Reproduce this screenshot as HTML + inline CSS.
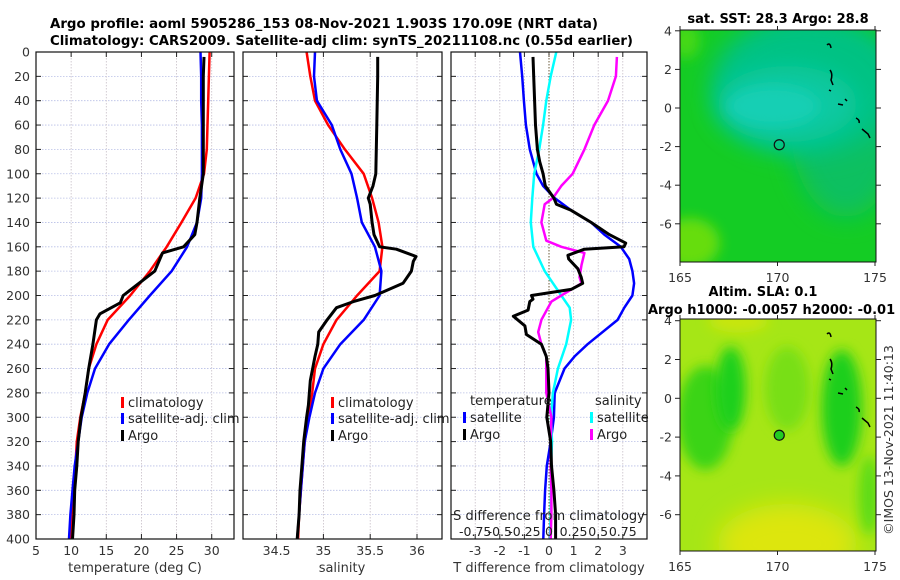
<!DOCTYPE html>
<html><head><meta charset="utf-8"><style>
html,body{margin:0;padding:0;background:#fff;}
svg{display:block;font-family:"DejaVu Sans","Liberation Sans",sans-serif;}
</style></head><body>
<svg id="fig" width="900" height="580" viewBox="0 0 900 580" xmlns="http://www.w3.org/2000/svg">
<defs>
<filter id="blur1" x="-50%" y="-50%" width="200%" height="200%"><feGaussianBlur stdDeviation="12"/></filter>
<filter id="blur2" x="-50%" y="-50%" width="200%" height="200%"><feGaussianBlur stdDeviation="6"/></filter>
<clipPath id="m1clip"><rect x="680" y="30" width="196" height="232"/></clipPath>
<clipPath id="m2clip"><rect x="680" y="319" width="196" height="232"/></clipPath>
</defs>
<text x="50" y="28" font-size="13.5" font-weight="bold" textLength="548" lengthAdjust="spacingAndGlyphs">Argo profile: aoml 5905286_153 08-Nov-2021 1.903S 170.09E (NRT data)</text>
<text x="50" y="45" font-size="13.5" font-weight="bold" textLength="583" lengthAdjust="spacingAndGlyphs">Climatology: CARS2009. Satellite-adj clim: synTS_20211108.nc (0.55d earlier)</text>
<g id="panels"></g>
<g id="maps"></g>
</svg>
<script>
// ---------- data ----------
const depthTicks = [0,20,40,60,80,100,120,140,160,180,200,220,240,260,280,300,320,340,360,380,400];
const tempTicks = [5,10,15,20,25,30];
const salTicks = [34.5,35,35.5,36];
const tdiffTicks = [-3,-2,-1,0,1,2,3];
const sdiffTickLabels = ["-0.75","-0.5","-0.25","0","0.25","0.5","0.75"];
const sdiffTicks = [-0.75,-0.5,-0.25,0,0.25,0.5,0.75];

const climDepth = [0,20,40,60,80,100,120,140,160,180,200,220,240,260,280,300,320,340,360,380,400];
const climTemp  = [29.7,29.6,29.5,29.4,29.3,28.9,27.7,25.7,23.6,21.2,18.4,15.2,13.6,12.5,12.0,11.3,10.8,10.6,10.4,10.2,10.0];
const satTemp   = [28.4,28.5,28.5,28.6,28.6,28.6,28.5,27.9,26.5,24.3,21.2,18.2,15.4,13.4,12.3,11.5,11.0,10.5,10.2,9.9,9.7];
const argoTDepth = [4,20,60,100,120,140,150,160,165,180,200,206,215,220,240,260,280,300,320,340,360,380,400];
const argoTemp   = [28.9,28.8,28.8,28.8,28.3,27.9,27.6,26.0,23.0,21.9,17.4,17.0,14.1,13.6,13.1,12.5,12.0,11.4,11.0,10.8,10.5,10.4,10.2];

const climSal = [34.82,34.86,34.91,35.05,35.23,35.43,35.52,35.59,35.63,35.60,35.36,35.14,35.0,34.91,34.88,34.84,34.80,34.78,34.76,34.74,34.73];
const satSal  = [34.91,34.90,34.93,35.09,35.18,35.30,35.36,35.41,35.55,35.62,35.60,35.43,35.18,35.0,34.91,34.85,34.80,34.78,34.76,34.74,34.72];
const argoSDepth = [4,20,60,100,110,120,125,140,150,160,162,168,172,180,190,200,205,210,220,230,240,250,270,290,300,320,340,360,380,400];
const argoSal    = [35.58,35.58,35.57,35.56,35.53,35.48,35.50,35.52,35.54,35.60,35.78,35.99,35.96,35.94,35.85,35.55,35.32,35.14,35.04,34.95,34.94,34.91,34.86,34.84,34.82,34.79,34.77,34.75,34.74,34.72];

const satTdDepth = [0,20,40,60,80,100,110,120,130,140,150,160,170,180,190,200,210,220,240,250,260,280,300,320,340,360,380,400];
const satTdiff   = [-1.18,-1.09,-1.02,-0.94,-0.78,-0.51,-0.24,0.23,0.90,1.71,2.25,2.92,3.26,3.39,3.46,3.39,3.06,2.79,1.57,1.04,0.63,0.23,0.20,0.07,-0.09,-0.16,-0.20,-0.23];
const argoTdDepth = [4,20,60,80,90,100,110,120,125,130,140,150,157,160,162,167,170,178,185,190,195,200,203,205,212,217,225,232,240,250,260,280,300,320,340,360,380,400];
const argoTdiff   = [-0.65,-0.62,-0.55,-0.47,-0.38,-0.24,-0.15,0.20,0.30,0.90,1.71,2.45,3.12,3.05,1.44,0.77,0.80,1.17,1.31,1.37,0.90,-0.71,-0.65,-0.78,-0.85,-1.45,-0.98,-0.92,-0.31,-0.11,-0.04,0.0,-0.09,0.07,0.10,0.20,0.27,0.27];
const satSdDepth = [0,20,40,60,80,100,120,140,160,180,200,210,220,240,260,280,300,320,340,360,380,400];
const satSdiff   = [0.074,0.017,-0.027,-0.06,-0.10,-0.15,-0.17,-0.185,-0.16,-0.044,0.125,0.21,0.225,0.175,0.09,0.04,0.02,0.03,0.02,0.02,0.017,0.01];
const argoSdDepth = [4,20,40,60,80,100,110,120,125,140,155,160,165,175,185,190,200,205,210,220,230,240,250,260,280,300,320,340,360,380,400];
const argoSdiff   = [0.69,0.68,0.60,0.46,0.36,0.24,0.125,0.04,-0.044,-0.077,-0.027,0.125,0.36,0.33,0.31,0.33,0.125,0.024,-0.01,-0.077,-0.11,-0.077,-0.027,-0.027,-0.027,0.024,0.017,0.017,0.024,0.024,0.017];

// ---------- helpers ----------
const NS = "http://www.w3.org/2000/svg";
function mk(tag, attrs, parent){ const e=document.createElementNS(NS,tag); for(const k in attrs) e.setAttribute(k,attrs[k]); if(parent) parent.appendChild(e); return e; }
const Y0=52, Y1=539;
function yD(d){ return Y0 + (d/400)*(Y1-Y0); }
function scaleX(x0,x1,d0,d1){ return v => x0 + (v-d0)/(d1-d0)*(x1-x0); }

const panels = document.getElementById('panels');
const P = [
  {x0:36,x1:234,d0:5,d1:33.17,name:'temperature-panel'},
  {x0:243,x1:442,d0:34.141,d1:36.267,name:'salinity-panel'},
  {x0:451,x1:647,d0:-3.984,d1:3.984,name:'difference-panel'}
];
P.forEach(p=>{ p.sx = scaleX(p.x0,p.x1,p.d0,p.d1); });
const sdx = v => P[2].sx(v*4);

function drawFrame(p, g, xticks, xlabels){
  const bg = mk('rect',{x:p.x0,y:Y0,width:p.x1-p.x0,height:Y1-Y0,fill:'#fff'},g);
  
  
  depthTicks.forEach(d=>{
    const y=yD(d);
    mk('line',{x1:p.x0,x2:p.x1,y1:y,y2:y,stroke:'#b8bfe6','stroke-width':0.8,'stroke-dasharray':'1.5,1.5'},g);
    mk('line',{x1:p.x0,x2:p.x0+5,y1:y,y2:y,stroke:'#222','stroke-width':1},g);
    mk('line',{x1:p.x1-5,x2:p.x1,y1:y,y2:y,stroke:'#222','stroke-width':1},g);
  });
  xticks.forEach((v,i)=>{
    const x=p.sx(v);
    mk('line',{x1:x,x2:x,y1:Y0,y2:Y1,stroke:'#c8bfc8','stroke-width':0.8,'stroke-dasharray':'1.5,1.5'},g);
    mk('line',{x1:x,x2:x,y1:Y0,y2:Y0+5,stroke:'#222'},g);
    mk('line',{x1:x,x2:x,y1:Y1-5,y2:Y1,stroke:'#222'},g);
    const t=mk('text',{x:x,y:555,'font-size':12.5,'text-anchor':'middle',fill:'#333'},g);
    t.textContent = xlabels[i];
    
    
  });
}
function line(g, xs, ds, sx, color, w, name){
  const pts = xs.map((v,i)=> sx(v).toFixed(1)+','+yD(ds[i]).toFixed(1)).join(' ');
  const pl = mk('polyline',{points:pts,fill:'none',stroke:color,'stroke-width':w,'stroke-linejoin':'round'},g);
  
  
}
function legItem(g,x,y,color,label){
  mk('rect',{x:x,y:y-10,width:3,height:11,fill:color},g);
  const t=mk('text',{x:x+7,y:y,'font-size':13,fill:'#222'},g);
  t.textContent=label;
  
  
}

// y tick labels
depthTicks.forEach(d=>{
  const t=mk('text',{x:30,y:yD(d)+4.5,'font-size':12.5,'text-anchor':'end',fill:'#333'},panels);
  t.textContent=d;
  
  
});

// panel 1
let g=mk('g',{},panels);


drawFrame(P[0],g,tempTicks,tempTicks.map(String));
line(g,climTemp,climDepth,P[0].sx,'#ff0000',2.5,'climatology-temp-line');
line(g,satTemp,climDepth,P[0].sx,'#0000ff',2.5,'satellite-temp-line');
line(g,argoTemp,argoTDepth,P[0].sx,'#000',3,'argo-temp-line');
legItem(g,121,407,'#ff0000','climatology');
legItem(g,121,423,'#0000ff','satellite-adj. clim');
legItem(g,121,440,'#000','Argo');
mk('rect',{x:P[0].x0,y:Y0,width:P[0].x1-P[0].x0,height:Y1-Y0,fill:'none',stroke:'#111','stroke-width':1.2},g);
let xl=mk('text',{x:135,y:572,'font-size':13,'text-anchor':'middle',fill:'#333'},g); xl.textContent='temperature (deg C)';



// panel 2
g=mk('g',{},panels);


drawFrame(P[1],g,salTicks,salTicks.map(String));
line(g,climSal,climDepth,P[1].sx,'#ff0000',2.5,'climatology-salinity-line');
line(g,satSal,climDepth,P[1].sx,'#0000ff',2.5,'satellite-salinity-line');
line(g,argoSal,argoSDepth,P[1].sx,'#000',3,'argo-salinity-line');
legItem(g,331,407,'#ff0000','climatology');
legItem(g,331,423,'#0000ff','satellite-adj. clim');
legItem(g,331,440,'#000','Argo');
mk('rect',{x:P[1].x0,y:Y0,width:P[1].x1-P[1].x0,height:Y1-Y0,fill:'none',stroke:'#111','stroke-width':1.2},g);
xl=mk('text',{x:342,y:572,'font-size':13,'text-anchor':'middle',fill:'#333'},g); xl.textContent='salinity';



// panel 3
g=mk('g',{},panels);


drawFrame(P[2],g,tdiffTicks,tdiffTicks.map(String));
mk('line',{x1:P[2].sx(0),x2:P[2].sx(0),y1:Y0,y2:Y1,stroke:'#6a5a3a','stroke-width':1,'stroke-dasharray':'1.5,1.5'},g);
line(g,satTdiff,satTdDepth,P[2].sx,'#0000ff',2.5,'satellite-temp-diff-line');
line(g,satSdiff,satSdDepth,sdx,'#00ffff',2.5,'satellite-salinity-diff-line');
line(g,argoSdiff,argoSdDepth,sdx,'#ff00ff',2.5,'argo-salinity-diff-line');
line(g,argoTdiff,argoTdDepth,P[2].sx,'#000',3,'argo-temp-diff-line');
let lt=mk('text',{x:470,y:405,'font-size':13,fill:'#222'},g); lt.textContent='temperature';
 
lt=mk('text',{x:595,y:405,'font-size':13,fill:'#222'},g); lt.textContent='salinity';
 
legItem(g,463,422,'#0000ff','satellite');
legItem(g,463,439,'#000','Argo');
legItem(g,590,422,'#00ffff','satellite');
legItem(g,590,439,'#ff00ff','Argo');
lt=mk('text',{x:549,y:520,'font-size':13,'text-anchor':'middle',fill:'#222'},g); lt.textContent='S difference from climatology';
 
sdiffTicks.forEach((v,i)=>{
  const t=mk('text',{x:sdx(v),y:536,'font-size':12.5,'text-anchor':'middle',fill:'#222'},g);
  t.textContent=sdiffTickLabels[i];
  
  
});
mk('rect',{x:P[2].x0,y:Y0,width:P[2].x1-P[2].x0,height:Y1-Y0,fill:'none',stroke:'#111','stroke-width':1.2},g);
xl=mk('text',{x:549,y:572,'font-size':13,'text-anchor':'middle',fill:'#333'},g); xl.textContent='T difference from climatology';



// ---------- maps ----------
const maps=document.getElementById('maps');
const lonTicks=[165,170,175];
const latTicks=[4,2,0,-2,-4,-6];
function lonX(l){ return 680 + (l-165)*19.5; }
function mapFrame(gm, top, latY, name){
  mk('rect',{x:680,y:top,width:196,height:232,fill:'none',stroke:'#111','stroke-width':1},gm);
  latTicks.forEach(l=>{
    const y=latY(l);
    mk('line',{x1:675,x2:680,y1:y,y2:y,stroke:'#222'},gm);
    mk('line',{x1:876,x2:881,y1:y,y2:y,stroke:'#222'},gm);
    const t=mk('text',{x:672,y:y+4.5,'font-size':12.5,'text-anchor':'end',fill:'#333'},gm);
    t.textContent=l;
    
    
  });
  lonTicks.forEach(l=>{
    const x=lonX(l);
    mk('line',{x1:x,x2:x,y1:top-4,y2:top,stroke:'#222'},gm);
    mk('line',{x1:x,x2:x,y1:top+232,y2:top+236,stroke:'#222'},gm);
    const t=mk('text',{x:x,y:top+252,'font-size':12.5,'text-anchor':'middle',fill:'#333'},gm);
    t.textContent=l;
    
    
  });
}
// map 1 (SST)
const lat1 = l => 108 - l*19.3;
let gm=mk('g',{},maps);


let gc=mk('g',{'clip-path':'url(#m1clip)'},gm);
mk('rect',{x:680,y:30,width:196,height:232,fill:'#14cc24'},gc);
mk('ellipse',{cx:lonX(165.5),cy:lat1(-7),rx:30,ry:25,fill:'#66dd11',filter:'url(#blur2)'},gc);
mk('ellipse',{cx:lonX(165.3),cy:lat1(3.5),rx:14,ry:18,fill:'#44d815',filter:'url(#blur2)'},gc);
mk('ellipse',{cx:lonX(173.5),cy:lat1(-1),rx:55,ry:90,fill:'#08c060',filter:'url(#blur1)'},gc);
mk('ellipse',{cx:lonX(171.5),cy:lat1(1.2),rx:95,ry:70,fill:'#06c283',filter:'url(#blur1)'},gc);
mk('ellipse',{cx:lonX(170.5),cy:lat1(0.2),rx:70,ry:38,fill:'#0cc9a2',filter:'url(#blur1)'},gc);
mk('ellipse',{cx:lonX(169.8),cy:lat1(0.1),rx:45,ry:20,fill:'#12cfb4',filter:'url(#blur2)'},gc);
mk('circle',{cx:lonX(170.09),cy:lat1(-1.903),r:5,fill:'none',stroke:'#111','stroke-width':1.2},gc);
const coast='M827,45 q3,-3 4,3 M830,70 q3,4 1,10 l2,5 M829,90 l2,1 M838,104 l5,1 M845,99 l2,2 M856,118 q4,2 3,5 M862,129 l6,5 l2,4';
mk('path',{d:coast,fill:'none',stroke:'#000','stroke-width':1.5},gc);
mapFrame(gm,30,lat1,'sst-map');
let mt=mk('text',{x:778,y:23,'font-size':13,'font-weight':'bold','text-anchor':'middle'},gm); mt.textContent='sat. SST: 28.3 Argo: 28.8';
 

// map 2 (SLA)
const lat2 = l => 398.3 - l*19.4;
gm=mk('g',{},maps);


gc=mk('g',{'clip-path':'url(#m2clip)'},gm);
mk('rect',{x:680,y:319,width:196,height:232,fill:'#a6e616'},gc);
mk('ellipse',{cx:lonX(170.5),cy:lat2(-7.5),rx:70,ry:40,fill:'#dde60a',filter:'url(#blur1)'},gc);
mk('ellipse',{cx:lonX(168),cy:lat2(4),rx:30,ry:12,fill:'#c8e60c',filter:'url(#blur2)'},gc);
mk('ellipse',{cx:lonX(166.3),cy:lat2(-1),rx:28,ry:52,fill:'#3ad418',filter:'url(#blur2)'},gc);
mk('ellipse',{cx:lonX(167.6),cy:lat2(0.5),rx:15,ry:42,fill:'#1ed01a',filter:'url(#blur2)'},gc);
mk('ellipse',{cx:lonX(173.3),cy:lat2(-0.5),rx:20,ry:58,fill:'#1ecf1a',filter:'url(#blur2)'},gc);
mk('ellipse',{cx:lonX(170.5),cy:lat2(0.5),rx:22,ry:42,fill:'#78df18',filter:'url(#blur2)'},gc);
mk('ellipse',{cx:lonX(174.7),cy:lat2(-5),rx:10,ry:40,fill:'#5cdb18',filter:'url(#blur2)'},gc);
mk('circle',{cx:lonX(170.09),cy:lat2(-1.903),r:5,fill:'#22cc22',stroke:'#111','stroke-width':1.2},gc);
mk('path',{d:coast,transform:'translate(0,289)',fill:'none',stroke:'#000','stroke-width':1.5},gc);
mapFrame(gm,319,lat2,'sla-map');
mt=mk('text',{x:763,y:296,'font-size':13,'font-weight':'bold','text-anchor':'middle'},gm); mt.textContent='Altim. SLA: 0.1';
 
mt=mk('text',{x:648,y:314,'font-size':13,'font-weight':'bold'},gm); mt.textContent='Argo h1000: -0.0057 h2000: -0.01';
 
mt=mk('text',{x:0,y:0,'font-size':12.5,'text-anchor':'middle',fill:'#333',transform:'translate(893,440) rotate(-90)'},gm); mt.textContent='©IMOS 13-Nov-2021 11:40:13';
 
</script>
</body></html>
